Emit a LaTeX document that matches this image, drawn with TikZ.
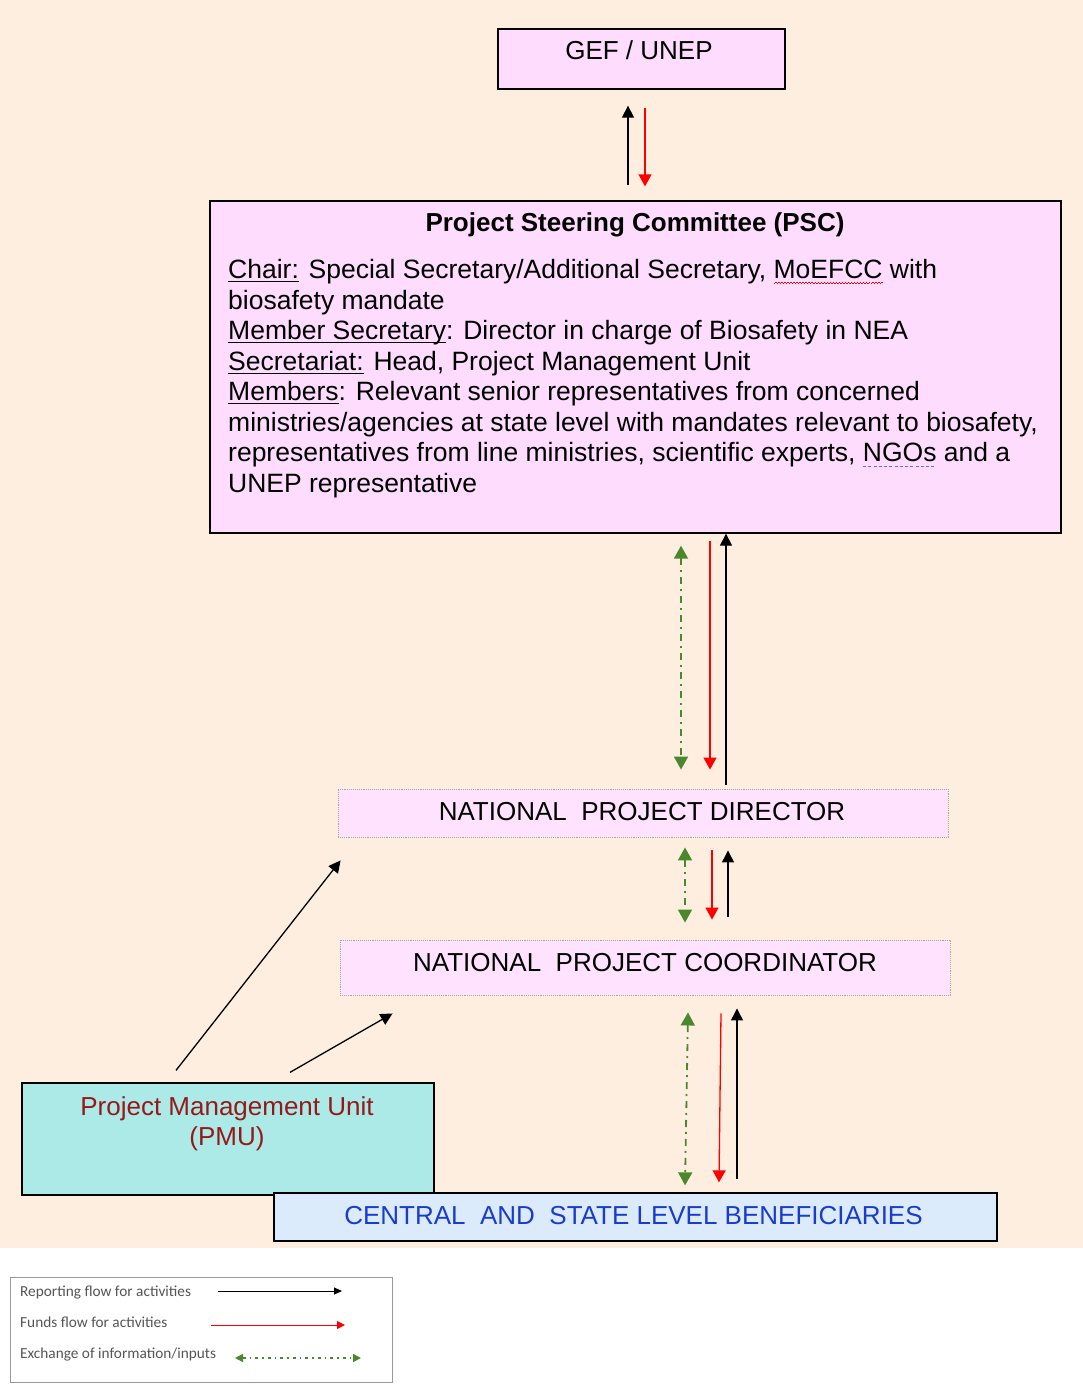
\documentclass[tikz,border=0pt]{standalone}
\usepackage{fontspec}
\setmainfont{Liberation Sans}
\newfontfamily\legfont{Carlito}
\usetikzlibrary{arrows.meta,calc}
\definecolor{bgpeach}{RGB}{253,238,224}
\definecolor{boxpink}{RGB}{253,220,253}
\definecolor{boxpinklt}{RGB}{254,226,254}
\definecolor{pmucyan}{RGB}{172,234,232}
\definecolor{benblue}{RGB}{220,235,251}
\definecolor{bentext}{RGB}{25,60,205}
\definecolor{pmutext}{RGB}{150,25,25}
\definecolor{infogreen}{RGB}{75,135,45}
\definecolor{legtext}{RGB}{85,85,85}
\newlength\ulw
\newcommand{\ulx}[1]{\settowidth\ulw{#1}\rlap{\rule[-3.5pt]{\ulw}{1.1pt}}#1}
\newcommand{\redwave}[1]{\settowidth\ulw{#1}\rlap{\color{red}\hbox to\ulw{\xleaders\hbox{\rule[-5pt]{1.5pt}{1pt}\rule[-4pt]{1.5pt}{1pt}}\hfil}}#1}
\newcommand{\bluedash}[1]{\settowidth\ulw{#1}\rlap{\color{blue!60}\hbox to\ulw{\xleaders\hbox{\rule[-5pt]{3pt}{1pt}\hspace{2pt}}\hfil}}#1}
\begin{document}
\begin{tikzpicture}[x=1pt,y=-1pt,
  box/.style={draw=black, line width=1.3pt, inner sep=0pt, rectangle},
  dotbox/.style={draw=gray!70, densely dotted, line width=0.9pt, fill=boxpinklt, inner sep=0pt, rectangle},
  txt/.style={inner sep=0pt, anchor=base, font=\fontsize{26}{30}\selectfont},
  body/.style={inner sep=0pt, anchor=base west, font=\fontsize{26.5}{30}\selectfont},
  rep/.style={-{Triangle[length=12pt,width=12pt]}, line width=1.3pt, black},
  fund/.style={-{Triangle[length=12pt,width=13pt]}, line width=1.3pt, red},
  info/.style={{Triangle[length=13pt,width=14pt]}-{Triangle[length=13pt,width=14pt]}, line width=1.8pt, infogreen, dash pattern=on 7pt off 5pt on 2pt off 5pt},
  legtxt/.style={inner sep=0pt, anchor=base west, font=\legfont\fontsize{15.3}{17}\selectfont, text=legtext},
  lrep/.style={-{Triangle[length=8pt,width=7pt]}, line width=1pt, black},
  lfund/.style={-{Triangle[length=8pt,width=8pt]}, line width=1pt, red},
  linfo/.style={{Triangle[length=8pt,width=8pt]}-{Triangle[length=8pt,width=8pt]}, line width=1.4pt, infogreen, dash pattern=on 3pt off 4pt on 1.5pt off 4pt}]
\useasboundingbox (0,0) rectangle (1083,1384);
\fill[white] (0,0) rectangle (1083,1384);
\fill[bgpeach] (0,0) rectangle (1083,1248);

% GEF / UNEP
\node[box, fill=boxpink, minimum width=287pt, minimum height=60pt] (gef) at (641.5,59) {};
\node[txt] (geft) at (639,59.5) {GEF / UNEP};

% PSC
\node[box, fill=boxpink, minimum width=851pt, minimum height=332pt] (psc) at (635.5,367) {};
\node[txt, font=\fontsize{26}{30}\selectfont\bfseries] (psct) at (635,231.5) {Project Steering Committee (PSC)};
\node[body] (l1) at (228,278.5) {\ulx{Chair:} Special Secretary/Additional Secretary, \redwave{MoEFCC} with};
\node[body] (l2) at (228,309.1) {biosafety mandate};
\node[body] (l3) at (228,339.6) {\ulx{Member Secretary}: Director in charge of Biosafety in NEA};
\node[body] (l4) at (228,370.2) {\ulx{Secretariat:} Head, Project Management Unit};
\node[body] (l5) at (228,400.8) {\ulx{Members}: Relevant senior representatives from concerned};
\node[body] (l6) at (228,431.4) {ministries/agencies at state level with mandates relevant to biosafety,};
\node[body] (l7) at (228,461.9) {representatives from line ministries, scientific experts, \bluedash{NGOs} and a};
\node[body] (l8) at (228,492.5) {UNEP representative};

% NPD and NPC
\node[dotbox, minimum width=610pt, minimum height=48pt] (npd) at (643,813) {};
\node[txt] (npdt) at (642,820.2) {NATIONAL\ \ PROJECT DIRECTOR};
\node[dotbox, minimum width=610pt, minimum height=55pt] (npc) at (645,967.5) {};
\node[txt] (npct) at (645,971.2) {NATIONAL\ \ PROJECT COORDINATOR};

% PMU
\node[box, fill=pmucyan, minimum width=412pt, minimum height=112pt] (pmu) at (228,1139) {};
\node[txt, text=pmutext] (pmut1) at (227,1115.5) {Project Management Unit};
\node[txt, text=pmutext] (pmut2) at (227,1145.5) {(PMU)};

% Beneficiaries
\node[box, fill=benblue, minimum width=723pt, minimum height=48pt] (ben) at (635.5,1217) {};
\node[txt, text=bentext] (bent) at (633.5,1224.5) {CENTRAL\ \ AND\ \ STATE LEVEL BENEFICIARIES};

% GEF <-> PSC
\draw[rep] ($(psc.north)+(-7.5,-15)$) -- ($(gef.south)+(-13.5,16)$);
\draw[fund] ($(gef.south)+(3.5,18)$) -- ($(psc.north)+(9.5,-14)$);

% PSC <-> NPD
\draw[info] ($(psc.south)+(45.5,12)$) -- ($(npd.north)+(38,-19)$);
\draw[fund] ($(psc.south)+(74.5,7)$) -- ($(npd.north)+(67,-19)$);
\draw[rep] ($(npd.north)+(83,-4)$) -- ($(psc.south)+(90.5,0)$);

% NPD <-> NPC
\draw[info] ($(npd.south)+(42,10)$) -- ($(npc.north)+(40,-17)$);
\draw[fund] ($(npd.south)+(69,13)$) -- ($(npc.north)+(67,-20)$);
\draw[rep] ($(npc.north)+(83,-23)$) -- ($(npd.south)+(85,13)$);

% NPC <-> Beneficiaries
\draw[info] ($(npc.south)+(43,17)$) -- ($(ben.north)+(49.5,-7)$);
\draw[fund] ($(npc.south)+(76,18)$) -- ($(ben.north)+(83.5,-10)$);
\draw[rep] ($(ben.north)+(101.5,-13)$) -- ($(npc.south)+(92,13)$);

% PMU -> NPD, NPC
\draw[rep] ($(pmu.north)+(-52,-12)$) -- ($(npd.south west)+(3,23)$);
\draw[rep] ($(pmu.north)+(62,-10)$) -- ($(npc.south west)+(53,18)$);

% Legend
\node[draw=gray!80, line width=1pt, minimum width=382pt, minimum height=105pt, inner sep=0pt] (leg) at (201,1329.5) {};
\node[legtxt] (lg1) at (20,1296.5) {Reporting flow for activities};
\node[legtxt] (lg2) at (20,1327.5) {Funds flow for activities};
\node[legtxt] (lg3) at (20,1358.5) {Exchange of information/inputs};
\coordinate (a1) at (218,1291);
\coordinate (b1) at (342,1291);
\coordinate (a2) at (211,1325);
\coordinate (b2) at (345,1325);
\coordinate (a3) at (235,1358);
\coordinate (b3) at (361,1358);
\draw[lrep] (a1) -- (b1);
\draw[lfund] (a2) -- (b2);
\draw[linfo] (a3) -- (b3);
\end{tikzpicture}
\end{document}
